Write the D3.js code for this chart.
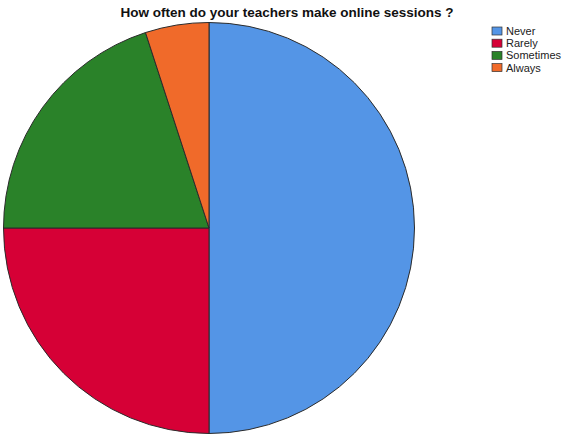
<!DOCTYPE html>
<html><head><meta charset="utf-8">
<script src="https://cdn.jsdelivr.net/npm/d3@7"></script>
<style>body{margin:0;background:#fff}svg{display:block}</style>
</head><body>
<script>
const categories = ["Never", "Rarely", "Sometimes", "Always"];
const values = [50, 25, 20, 5];
const colors = ["#5495e6", "#d60036", "#2a8229", "#f06a2a"];
const title = "How often do your teachers make online sessions ?";

const W = 564, H = 435;
const svg = d3.select("body").append("svg").attr("width", W).attr("height", H);

const cx = 209, cy = 228, r = 205.5;
const pie = d3.pie().sort(null).value(d => d.v);
const arc = d3.arc().innerRadius(0).outerRadius(r);
const data = categories.map((c, i) => ({c, v: values[i], col: colors[i]}));

const g = svg.append("g").attr("transform", `translate(${cx},${cy})`);
g.selectAll("path").data(pie(data)).join("path")
  .attr("d", arc).attr("fill", d => d.data.col)
  .attr("stroke", "#2b2b2b").attr("stroke-width", 1);

svg.append("text").attr("x", 287).attr("y", 17).attr("text-anchor", "middle")
  .attr("font-family", "Liberation Sans, Arial, sans-serif").attr("font-weight", "bold")
  .attr("font-size", 13.5).attr("fill", "#111").text(title);

const lg = svg.append("g").attr("transform", "translate(492,27)");
const items = lg.selectAll("g").data(data).join("g")
  .attr("transform", (d, i) => `translate(0,${i * 12.2})`);
items.append("rect").attr("width", 10).attr("height", 8)
  .attr("fill", d => d.col).attr("stroke", "#333").attr("stroke-width", 0.7);
items.append("text").attr("x", 14).attr("y", 8)
  .attr("font-family", "Liberation Sans, Arial, sans-serif").attr("font-size", 11)
  .attr("fill", "#222").text(d => d.c);
</script>
</body></html>
